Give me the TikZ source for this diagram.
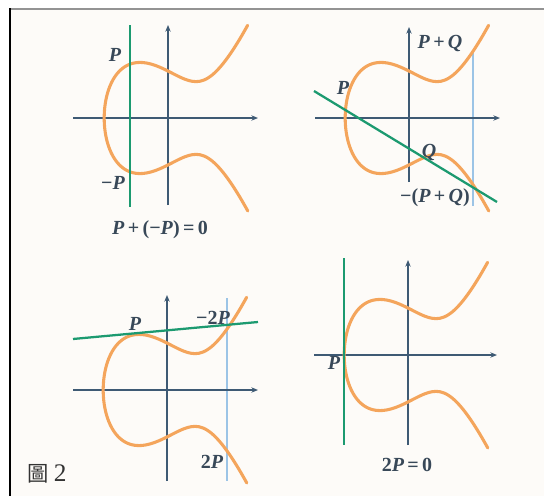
\documentclass[tikz,border=0pt]{standalone}
\usepackage{fontspec}
\setmainfont{Liberation Serif}
\newfontfamily\cjk{Noto Sans CJK TC}
\usetikzlibrary{arrows.meta}
\definecolor{curveor}{HTML}{F4A55C}
\definecolor{axiscol}{HTML}{3E5A74}
\definecolor{greenln}{HTML}{1C9A70}
\definecolor{thinbl}{HTML}{9CC4E6}
\definecolor{labcol}{HTML}{384858}
\definecolor{bgcream}{HTML}{FDFBF8}
\newcommand{\PP}{\textit{P}}
\newcommand{\QQ}{\textit{Q}}
\tikzset{
  x=0.75pt, y=-0.75pt,
  declare function={cx(\s)=-2.279+5.129*\s*\s; cy(\s)=\s*sqrt(5.129*(cx(\s)*cx(\s)-2.279*cx(\s)+2.194));},
  curve/.style={draw=curveor, line width=2.3pt, line cap=round},
  axis/.style={draw=axiscol, line width=1.3pt, -{Stealth[length=5pt,width=4pt]}},
  greenline/.style={draw=greenln, line width=1.7pt},
  thinline/.style={draw=thinbl, line width=0.8pt},
  lab/.style={text=labcol, font=\fontsize{15}{18}\selectfont\bfseries, inner sep=0pt},
}
\begin{document}
\begin{tikzpicture}
\useasboundingbox (0,0) rectangle (544,496);
\fill[white] (0,0) rectangle (544,496);
\fill[bgcream] (10,9) rectangle (544,496);
\draw[draw=gray!85, line width=1.5pt] (10,9) -- (544,9);
\draw[draw=black, line width=1.1pt] (10,8) -- (10,496);

% Panel 1
\begin{scope}[shift={(168,118)}]
  \coordinate (a1l) at (-95,0); \coordinate (a1r) at (90,0);
  \coordinate (a1b) at (0,87); \coordinate (a1t) at (0,-93);
  \draw[axis] (a1l) -- (a1r);
  \draw[axis] (a1b) -- (a1t);
  \draw[curve] plot[domain=-1:1, samples=121, smooth, variable=\s] ({28*cx(\s)}, {-21*cy(\s)});
  \coordinate (g1t) at (-38,-93); \coordinate (g1b) at (-38,89);
  \draw[greenline] (g1t) -- (g1b);
  \node[lab] (p1) at (-53,-63) {\PP};
  \node[lab] (mp1) at (-55,65) {−\PP};
  \node[lab] (eq1) at (-8,112) {\PP\,+\,(−\PP)\,=\,0};
\end{scope}

% Panel 2
\begin{scope}[shift={(409,118)}]
  \coordinate (a2l) at (-94,0); \coordinate (a2r) at (91,0);
  \coordinate (a2b) at (0,64); \coordinate (a2t) at (0,-91);
  \coordinate (t2t) at (64,-68); \coordinate (t2b) at (64,88);
  \draw[thinline] (t2t) -- (t2b);
  \draw[axis] (a2l) -- (a2r);
  \draw[axis] (a2b) -- (a2t);
  \draw[curve] plot[domain=-1:1, samples=121, smooth, variable=\s] ({28*cx(\s)}, {-21*cy(\s)});
  \coordinate (g2a) at (-95,-27); \coordinate (g2b) at (88,84);
  \draw[greenline] (g2a) -- (g2b);
  \node[lab] (p2) at (-66,-30) {\PP};
  \node[lab] (pq2) at (31,-75) {\PP\,+\,\QQ};
  \node[lab] (q2) at (20,34) {\QQ};
  \node[lab] (mpq2) at (26,80) {−(\PP\,+\,\QQ)};
\end{scope}

% Panel 3
\begin{scope}[shift={(167,390)}]
  \coordinate (a3l) at (-94,0); \coordinate (a3r) at (91,0);
  \coordinate (a3b) at (0,91); \coordinate (a3t) at (0,-95);
  \coordinate (t3t) at (60,-92); \coordinate (t3b) at (60,91);
  \draw[thinline] (t3t) -- (t3b);
  \draw[axis] (a3l) -- (a3r);
  \draw[axis] (a3b) -- (a3t);
  \draw[curve] plot[domain=-1:1, samples=121, smooth, variable=\s] ({28*cx(\s)}, {-21*cy(\s)});
  \coordinate (g3a) at (-94,-51); \coordinate (g3b) at (91,-68);
  \draw[greenline] (g3a) -- (g3b);
  \node[lab] (p3) at (-32,-66) {\PP};
  \node[lab] (m2p3) at (46,-72) {−2\PP};
  \node[lab] (tp3) at (45,72) {2\PP};
\end{scope}

% Panel 4
\begin{scope}[shift={(408,355)}]
  \coordinate (a4l) at (-94,0); \coordinate (a4r) at (89,0);
  \coordinate (a4b) at (0,90); \coordinate (a4t) at (0,-95);
  \draw[axis] (a4l) -- (a4r);
  \draw[axis] (a4b) -- (a4t);
  \draw[curve] plot[domain=-1:1, samples=121, smooth, variable=\s] ({28*cx(\s)}, {-21*cy(\s)});
  \coordinate (g4t) at (-64,-97); \coordinate (g4b) at (-64,90);
  \draw[greenline] (g4t) -- (g4b);
  \node[lab] (p4) at (-74,8) {\PP};
  \node[lab] (eq4) at (-1,110) {2\PP\,=\,0};
\end{scope}

\node[text=black!80, font=\fontsize{16}{19}\selectfont, inner sep=0pt, anchor=west] (cap) at (27,474) {{\cjk 圖}\hspace{4pt}\fontsize{19}{22}\selectfont 2};
\end{tikzpicture}
\end{document}
